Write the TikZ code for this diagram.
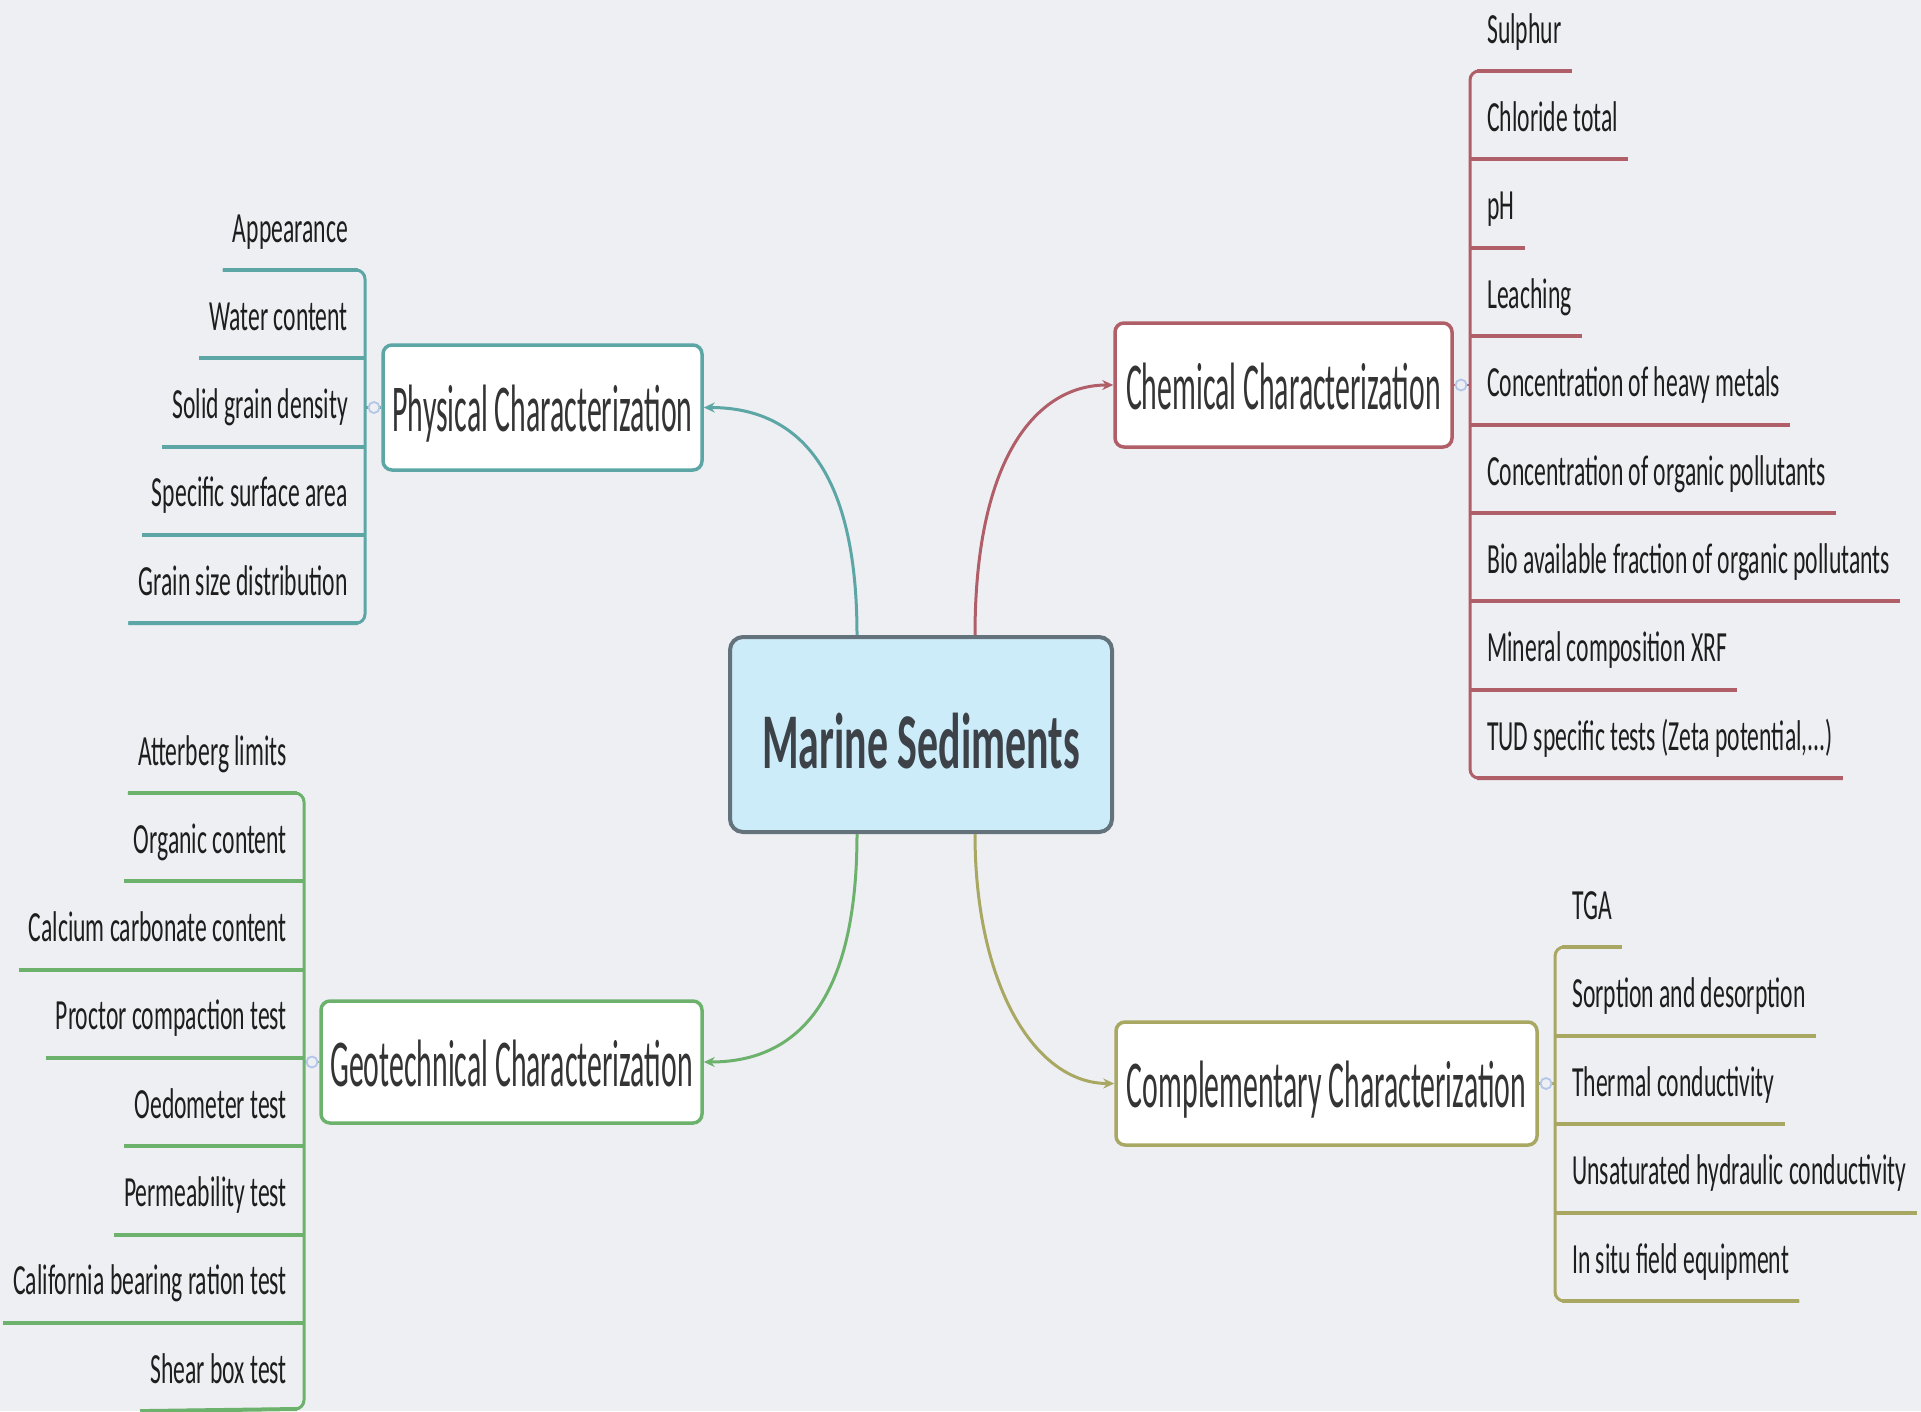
\documentclass[tikz,border=0pt]{standalone}
\usepackage{fontspec}
\setmainfont{Carlito}
\newfontfamily\leaffont[FakeStretch=0.55]{Carlito}
\newfontfamily\branchfont[FakeStretch=0.445]{Carlito}
\newfontfamily\rootfont[FakeStretch=0.53]{Carlito}
\usetikzlibrary{arrows.meta,calc}
\definecolor{bg}{RGB}{238,239,243}
\definecolor{physc}{RGB}{92,166,166}
\definecolor{chemc}{RGB}{176,94,104}
\definecolor{geoc}{RGB}{108,178,108}
\definecolor{compc}{RGB}{168,168,98}
\definecolor{rootb}{RGB}{100,114,124}
\definecolor{rootf}{RGB}{205,236,250}
\definecolor{leaftext}{RGB}{30,30,30}
\definecolor{brtext}{RGB}{52,52,52}
\definecolor{roottext}{RGB}{60,66,72}
\definecolor{indc}{RGB}{180,198,232}
\tikzset{
  leafR/.style={anchor=base west, inner xsep=10pt, inner ysep=0pt, text=leaftext,
    font=\leaffont\fontsize{43pt}{50pt}\selectfont},
  leafL/.style={anchor=base east, inner xsep=10pt, inner ysep=0pt, text=leaftext,
    font=\leaffont\fontsize{43pt}{50pt}\selectfont},
  branch/.style={draw, line width=3.5pt, fill=white, rounded corners=9pt, text=brtext,
    inner sep=0pt, text height=48pt, text depth=0pt,
    font=\branchfont\fontsize{67pt}{78pt}\selectfont},
  rootbox/.style={draw=rootb, line width=4pt, fill=rootf, rounded corners=13pt, text=roottext,
    inner sep=0pt, text height=67pt, text depth=0pt,
    font=\rootfont\bfseries\fontsize{79pt}{90pt}\selectfont},
  conn/.style={line width=3pt, -{Stealth[length=11pt,width=10pt]}},
  uline/.style={line width=4pt},
  bracket/.style={line width=3pt, rounded corners=9pt},
  ind/.style={circle, draw=indc, line width=1.8pt, fill=bg, minimum size=11pt, inner sep=0pt}
}
\begin{document}
\begin{tikzpicture}[x=1pt,y=-1pt]
\useasboundingbox (0,0) rectangle (1921,1411);
\fill[bg] (0,0) rectangle (1921,1411);

% root and branches
\node[rootbox, minimum width=382pt, minimum height=195pt] (root) at (921,734.5) {Marine Sediments};
\node[branch, draw=physc, minimum width=319pt, minimum height=125pt] (phys) at (542.5,407.5) {Physical Characterization};
\node[branch, draw=chemc, minimum width=337pt, minimum height=124pt] (chem) at (1283.5,385) {Chemical Characterization};
\node[branch, draw=geoc, minimum width=381pt, minimum height=122pt] (geo) at (511.5,1062) {Geotechnical Characterization};
\node[branch, draw=compc, minimum width=421pt, minimum height=123pt] (comp) at (1326.5,1083.5) {Complementary Characterization};

% main connectors
\draw[conn, physc] ([xshift=-64pt]root.north) .. controls +(0,-150) and +(105,0) .. (phys.east);
\draw[conn, chemc] ([xshift=54pt]root.north) .. controls +(0,-180) and +(-75,0) .. (chem.west);
\draw[conn, geoc] ([xshift=-64pt]root.south) .. controls +(0,150) and +(105,0) .. (geo.east);
\draw[conn, compc] ([xshift=54pt]root.south) .. controls +(0,150) and +(-80,0) .. (comp.west);

% Physical children
\foreach \t [count=\i from 0] in {Appearance, Water content, Solid grain density, Specific surface area, Grain size distribution}{
  \node[leafL] (p\i) at (358,{270+88.3*\i-28}) {\t};
}
\foreach \i in {1,2,3}{
  \draw[uline, physc] ($(p\i.base west)+(0,28)$) -- (365,{270+88.3*\i});
}
\draw[bracket, physc] ($(p0.base west)+(0,28)$) -- (365,270) -- (365,623.2) -- ($(p4.base west)+(0,28)$);
\draw[uline, physc] ($(p0.base west)+(0,28)$) -- (358,270);
\draw[uline, physc] ($(p4.base west)+(0,28)$) -- (358,623.2);
\coordinate (pj) at (365,407.5);
\draw[line width=2.5pt, physc] (phys.west) -- (pj);
\node[ind] (pind) at (374,407.5) {};

% Chemical children
\foreach \t [count=\i from 0] in {Sulphur, Chloride total, pH, Leaching, Concentration of heavy metals, Concentration of organic pollutants, Bio available fraction of organic pollutants, Mineral composition XRF}{
  \node[leafR] (c\i) at (1477,{71+88.4*\i-28}) {\t};
}
\node[leafR] (c8) at (1477,{71+88.4*8-28}) {TUD specific tests (Zeta potential,...)};
\foreach \i in {1,2,3,4,5,6,7}{
  \draw[uline, chemc] (1470,{71+88.4*\i}) -- ($(c\i.base east)+(0,28)$);
}
\draw[bracket, chemc] ($(c0.base east)+(0,28)$) -- (1470,71) -- (1470,778.2) -- ($(c8.base east)+(0,28)$);
\draw[uline, chemc] (1477,71) -- ($(c0.base east)+(0,28)$);
\draw[uline, chemc] (1477,778.2) -- ($(c8.base east)+(0,28)$);
\coordinate (cj) at (1470,385);
\draw[line width=2.5pt, chemc] (chem.east) -- (cj);
\node[ind] (cind) at (1461,385) {};

% Geotechnical children
\foreach \t [count=\i from 0] in {Atterberg limits, Organic content, Calcium carbonate content, Proctor compaction test, Oedometer test, Permeability test, California bearing ration test, Shear box test}{
  \node[leafL] (g\i) at (297,{793+88.3*\i-28}) {\t};
}
\foreach \i in {1,2,3,4,5,6}{
  \draw[uline, geoc] ($(g\i.base west)+(0,28)$) -- (304,{793+88.3*\i});
}
\draw[bracket, geoc] ($(g0.base west)+(0,28)$) -- (304,793) -- (304,1409) -- ($(g7.base west)+(0,28)$);
\draw[uline, geoc] ($(g0.base west)+(0,28)$) -- (297,793);
\draw[uline, geoc] ($(g7.base west)+(0,28)$) -- (297,1409);
\coordinate (gj) at (304,1062);
\draw[line width=2.5pt, geoc] (geo.west) -- (gj);
\node[ind] (gind) at (312,1062) {};

% Complementary children
\foreach \t [count=\i from 0] in {TGA, Sorption and desorption, Thermal conductivity, Unsaturated hydraulic conductivity, In situ field equipment}{
  \node[leafR] (k\i) at (1562,{947+88.5*\i-28}) {\t};
}
\foreach \i in {1,2,3}{
  \draw[uline, compc] (1555,{947+88.5*\i}) -- ($(k\i.base east)+(0,28)$);
}
\draw[bracket, compc] ($(k0.base east)+(0,28)$) -- (1555,947) -- (1555,1301) -- ($(k4.base east)+(0,28)$);
\draw[uline, compc] (1562,947) -- ($(k0.base east)+(0,28)$);
\draw[uline, compc] (1562,1301) -- ($(k4.base east)+(0,28)$);
\coordinate (kj) at (1555,1083.5);
\draw[line width=2.5pt, compc] (comp.east) -- (kj);
\node[ind] (kind) at (1546,1083.5) {};
\end{tikzpicture}
\end{document}
